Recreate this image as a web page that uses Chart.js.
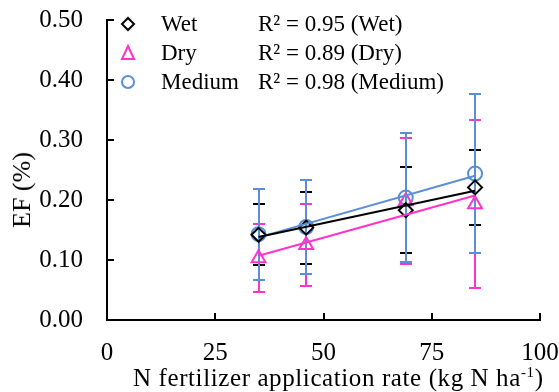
<!DOCTYPE html>
<html>
<head>
<meta charset="utf-8">
<script src="https://cdn.jsdelivr.net/npm/chart.js@4.4.1/dist/chart.umd.min.js"></script>
<style>
  body { margin: 0; background: #fff; }
  #wrap { position: relative; width: 559px; height: 392px; font-family: "Liberation Serif", "Times New Roman", serif; color: #000; }
  #legend { position: absolute; left: 118px; top: 9px; font-size: 23px; }
  .row { position: relative; height: 29px; line-height: 29px; white-space: nowrap; }
  .row svg { position: absolute; left: 0; top: 6px; }
  .row .name { position: absolute; left: 43px; }
  .row .r2 { position: absolute; left: 140px; }
  #xTitle { position: absolute; left: 133px; top: 363px; font-size: 25px; line-height: 29px; letter-spacing: 0.6px; white-space: nowrap; }
  #xTitle sup { font-size: 15px; line-height: 0; vertical-align: 9px; }
  #yTitle { position: absolute; left: 22px; top: 190px; font-size: 26px; line-height: 26px; white-space: nowrap; transform: translate(-50%, -50%) rotate(-90deg); }
</style>
</head>
<body>
<div id="wrap">
  <canvas id="efChart" width="559" height="392"></canvas>
  <div id="legend">
    <div class="row">
      <svg width="20" height="18"><polygon points="10,3 16,9 10,15 4,9" fill="none" stroke="#000" stroke-width="2"/></svg>
      <span class="name">Wet</span><span class="r2">R² = 0.95 (Wet)</span>
    </div>
    <div class="row">
      <svg width="20" height="18"><polygon points="10,2 16,15 4,15" fill="none" stroke="#ff33cc" stroke-width="2"/></svg>
      <span class="name">Dry</span><span class="r2">R² = 0.89 (Dry)</span>
    </div>
    <div class="row">
      <svg width="20" height="18"><circle cx="10" cy="9" r="6" fill="none" stroke="#5a8ed6" stroke-width="2"/></svg>
      <span class="name">Medium</span><span class="r2">R² = 0.98 (Medium)</span>
    </div>
  </div>
  <div id="xTitle">N fertilizer application rate (kg N ha<sup>-1</sup>)</div>
  <div id="yTitle">EF (%)</div>
</div>
<script>
// N rates (kg N / ha)
const nRates = [35, 46, 69, 85];

// EF (%) means and error bar half-widths
const wetEF = [0.142, 0.154, 0.183, 0.221];
const wetErr = [0.051, 0.060, 0.072, 0.062];
const dryEF = [0.103, 0.125, 0.198, 0.193];
const dryErr = [0.057, 0.068, 0.105, 0.140];
const medEF = [0.143, 0.155, 0.204, 0.244];
const medErr = [0.076, 0.078, 0.107, 0.133];

const xTicks = [0, 25, 50, 75, 100];
const yTicks = [0, 0.1, 0.2, 0.3, 0.4, 0.5];

const black = "#000000";
const pink = "#ff33cc";
const blue = "#5a8ed6";
const serif = "'Liberation Serif', 'Times New Roman', serif";

// least squares line between first and last x
function trend(xs, ys) {
  const n = xs.length;
  const mx = xs.reduce((a, b) => a + b, 0) / n;
  const my = ys.reduce((a, b) => a + b, 0) / n;
  let sxy = 0, sxx = 0;
  xs.forEach((x, i) => { sxy += (x - mx) * (ys[i] - my); sxx += (x - mx) * (x - mx); });
  const b = sxy / sxx;
  const x0 = xs[0], x1 = xs[n - 1];
  return [{ x: x0, y: my + b * (x0 - mx) }, { x: x1, y: my + b * (x1 - mx) }];
}

const pts = (ys) => nRates.map((x, i) => ({ x: x, y: ys[i] }));

function pointSet(label, ys, errs, color, style, radius) {
  return {
    type: "scatter", label: label, data: pts(ys), errs: errs,
    pointStyle: style, pointRadius: radius, borderColor: color,
    backgroundColor: "rgba(0,0,0,0)", pointBorderWidth: 2, showLine: false,
  };
}
function lineSet(label, ys, color) {
  return {
    type: "line", label: label, data: trend(nRates, ys),
    borderColor: color, borderWidth: 2, pointRadius: 0, fill: false,
  };
}

// error bars and inward tick marks
const extrasPlugin = {
  id: "extras",
  beforeDatasetsDraw(chart) {
    const { ctx, scales } = chart;
    const x = scales.x, y = scales.y;
    ctx.save();
    chart.data.datasets.forEach((ds) => {
      if (!ds.errs) return;
      ctx.strokeStyle = ds.borderColor;
      ctx.lineWidth = 2;
      ds.data.forEach((p, i) => {
        const px = Math.round(x.getPixelForValue(p.x));
        const top = Math.round(y.getPixelForValue(p.y + ds.errs[i]));
        const bot = Math.round(y.getPixelForValue(p.y - ds.errs[i]));
        ctx.beginPath();
        ctx.moveTo(px, top); ctx.lineTo(px, bot);
        ctx.moveTo(px - 6, top); ctx.lineTo(px + 6, top);
        ctx.moveTo(px - 6, bot); ctx.lineTo(px + 6, bot);
        ctx.stroke();
      });
    });
    ctx.restore();
  },
  afterDraw(chart) {
    const { ctx, scales, chartArea } = chart;
    ctx.save();
    ctx.strokeStyle = black;
    ctx.lineWidth = 2;
    ctx.beginPath();
    xTicks.forEach((v) => {
      const px = Math.round(scales.x.getPixelForValue(v));
      ctx.moveTo(px, chartArea.bottom); ctx.lineTo(px, chartArea.bottom - 7);
    });
    yTicks.forEach((v) => {
      const py = Math.round(scales.y.getPixelForValue(v));
      ctx.moveTo(chartArea.left, py); ctx.lineTo(chartArea.left + 7, py);
    });
    ctx.stroke();
    ctx.restore();
  },
};

new Chart(document.getElementById("efChart").getContext("2d"), {
  data: {
    datasets: [
      lineSet("Wet trend", wetEF, black),
      lineSet("Dry trend", dryEF, pink),
      lineSet("Medium trend", medEF, blue),
      pointSet("Wet", wetEF, wetErr, black, "rectRot", 7),
      pointSet("Dry", dryEF, dryErr, pink, "triangle", 8),
      pointSet("Medium", medEF, medErr, blue, "circle", 7),
    ],
  },
  options: {
    responsive: false,
    animation: false,
    layout: { padding: { top: 20, right: 19, left: 0, bottom: 0 } },
    plugins: { legend: { display: false }, tooltip: { enabled: false } },
    scales: {
      x: {
        type: "linear", min: 0, max: 100,
        afterFit(s) { s.height = 72; s.paddingLeft = 0; s.paddingRight = 0; },
        afterBuildTicks(s) { s.ticks = xTicks.map((v) => ({ value: v })); },
        grid: { display: false, drawTicks: false },
        border: { display: true, color: black, width: 2 },
        ticks: { color: black, padding: 18, font: { family: serif, size: 25 }, maxRotation: 0 },
      },
      y: {
        type: "linear", min: 0, max: 0.5,
        afterFit(s) { s.width = 107; s.paddingTop = 0; s.paddingBottom = 0; },
        afterBuildTicks(s) { s.ticks = yTicks.map((v) => ({ value: v })); },
        grid: { display: false, drawTicks: false },
        border: { display: true, color: black, width: 2 },
        ticks: { color: black, padding: 24, font: { family: serif, size: 25 }, callback: (v) => v.toFixed(2) },
      },
    },
  },
  plugins: [extrasPlugin],
});
</script>
</body>
</html>
